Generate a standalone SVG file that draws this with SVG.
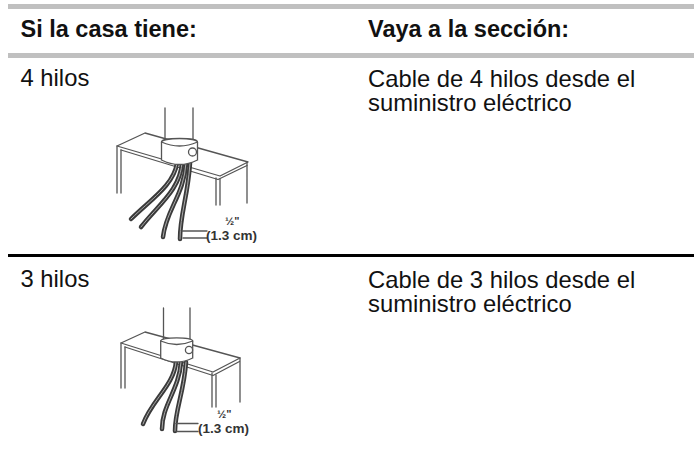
<svg xmlns="http://www.w3.org/2000/svg" width="694" height="452" viewBox="0 0 694 452">
<style>
.hdr{font-family:"Liberation Sans",Arial,sans-serif;font-size:23.5px;font-weight:bold;fill:#111}
.txt{font-family:"Liberation Sans",Arial,sans-serif;font-size:23.8px;fill:#111}
.dim{font-family:"Liberation Sans",Arial,sans-serif;font-size:13.5px;font-weight:bold;fill:#333}
.half{font-family:"Liberation Sans",Arial,sans-serif;font-size:11px;font-weight:bold;fill:#333}
.ln{fill:none;stroke:#555;stroke-width:1.3;stroke-linecap:round;stroke-linejoin:round}
.wire{fill:none;stroke:#3a3a3a;stroke-width:4.5;stroke-linecap:round}
.hl{fill:none;stroke:#aaa;stroke-width:1;stroke-linecap:round}
</style>
<rect x="8" y="4" width="686" height="5" fill="#c0c0c0"/>
<rect x="8" y="53" width="686" height="5" fill="#c0c0c0"/>
<rect x="8" y="254" width="686" height="3" fill="#000"/>
<g id="header">
<text class="hdr" x="20.5" y="37">Si la casa tiene:</text>
<text class="hdr" x="368" y="37">Vaya a la sección:</text>
</g>
<g id="row1">
<text class="txt" x="20.5" y="86">4 hilos</text>
<text class="txt" x="368" y="86.5">Cable de 4 hilos desde el</text>
<text class="txt" x="368" y="110.5">suministro eléctrico</text>
</g>
<g id="illus1">
<path class="ln" d="M117,146 L145,133 L248,162 L220,176 Z"/>
<path class="ln" d="M121,150 L218,179.5 L247,165.5"/>
<path class="ln" d="M117,146 V193 M121,150 V193"/>
<path class="ln" d="M216,178 V205 M220,179 V205 M247,162 V203"/>
<path class="wire" d="M177,163 C174,185 150,200 131,219"/>
<path class="wire" d="M182,163 C180,190 158,205 141,227"/>
<path class="wire" d="M186,163 C184,195 166,210 163,237"/>
<path class="wire" d="M190,163 C188,195 180,215 180,239"/>
<path class="hl" d="M177,163 C174,185 150,200 131,219 M182,163 C180,190 158,205 141,227 M186,163 C184,195 166,210 163,237 M190,163 C188,195 180,215 180,239"/>
<path class="ln" d="M165,108 V142 M193,108 V142"/>
<path d="M161.5,142 A18,3.5 0 0 1 197.5,142 V160 Q179.5,169 161.5,160 Z" fill="#fff" stroke="#555" stroke-width="1.3"/>
<path class="ln" d="M161.5,142 Q179.5,150 197.5,142"/>
<circle cx="192.5" cy="152" r="4" fill="#fff" stroke="#555" stroke-width="1.3"/>
<path class="ln" d="M182,231 H207 M183,238 H207"/>
<text class="half" x="225" y="225">½"</text>
<text class="dim" x="206" y="240">(1.3 cm)</text>
</g>
<g id="row2">
<text class="txt" x="20.5" y="287">3 hilos</text>
<text class="txt" x="368" y="287.5">Cable de 3 hilos desde el</text>
<text class="txt" x="368" y="311.5">suministro eléctrico</text>
</g>
<g id="illus2">
<path class="ln" d="M121,343 L145,332 L240,358 L213,372 Z"/>
<path class="ln" d="M125,347 L213,375.5 L239.5,361.5"/>
<path class="ln" d="M121,343 V388 M125,347 V388"/>
<path class="ln" d="M212,373 V407 M216,375 V407 M240,358 V402"/>
<path class="wire" d="M176,362 C174,385 152,400 143,424"/>
<path class="wire" d="M181,362 C179,390 162,405 162,429"/>
<path class="wire" d="M186,362 C184,392 175,410 175,431"/>
<path class="hl" d="M176,362 C174,385 152,400 143,424 M181,362 C179,390 162,405 162,429 M186,362 C184,392 175,410 175,431"/>
<path class="ln" d="M163.5,308 V341 M190,308 V341"/>
<path d="M160.7,341 A16,3.2 0 0 1 192.7,341 V358 Q176.7,366 160.7,358 Z" fill="#fff" stroke="#555" stroke-width="1.3"/>
<path class="ln" d="M160.7,341 Q176.7,348 192.7,341"/>
<circle cx="189" cy="350" r="3.6" fill="#fff" stroke="#555" stroke-width="1.3"/>
<path class="ln" d="M176,423.5 H198 M177,431.5 H198"/>
<text class="half" x="217" y="418">½"</text>
<text class="dim" x="198" y="433">(1.3 cm)</text>
</g>
</svg>
